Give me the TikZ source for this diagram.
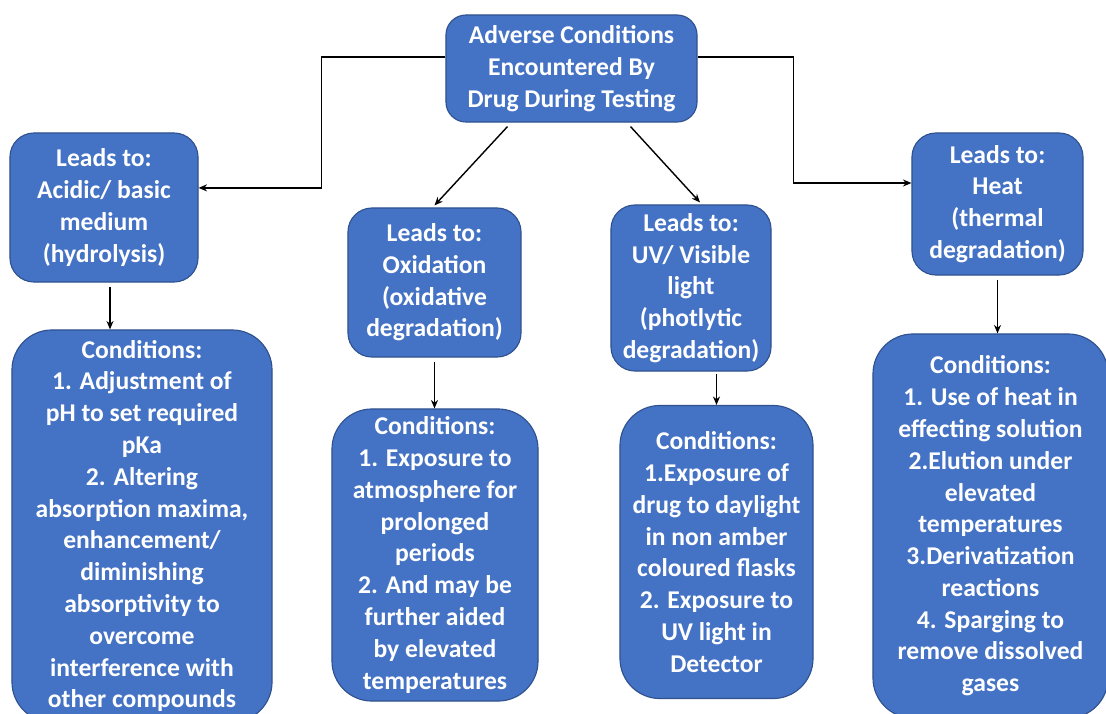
\documentclass[tikz,border=0pt]{standalone}
\usepackage{fontspec}
\setmainfont{Carlito}
\usepackage{tikz}
\usetikzlibrary{arrows.meta,positioning}
\usepackage{xcolor}
\definecolor{boxblue}{HTML}{4472C4}
\definecolor{boxedge}{HTML}{2F528F}

\begin{document}
\begin{tikzpicture}[
    x=0.025cm, y=-0.025cm,
    box/.style={draw=boxedge, fill=boxblue, text=white, line width=0.8pt, align=center, inner sep=0pt, font=\fontsize{18.2}{22.6}\selectfont\bfseries},
    lead/.style={box, rounded corners=0.6cm},
    cond/.style={box, rounded corners=1cm},
    arrow/.style={-{Stealth[length=6pt,width=5pt]}, line width=1pt}
  ]
  \clip (0,0) rectangle (1106,713);

  % Main components
  \node[box, rounded corners=0.5cm, minimum width=6.275cm, minimum height=2.675cm] (adverse) at (571.5,68.5) {Adverse Conditions\\Encountered By\\Drug During Testing};
  \node[lead, minimum width=4.7cm, minimum height=3.725cm] (acid) at (104,207.5) {Leads to:\\Acidic/ basic\\medium\\(hydrolysis)};
  \node[lead, minimum width=4.325cm, minimum height=3.725cm] (oxid) at (434.5,282.5) {Leads to:\\Oxidation\\(oxidative\\degradation)};
  \node[lead, minimum width=4cm, minimum height=4.15cm] (light) at (691,288) {Leads to:\\UV/ Visible\\light\\(photlytic\\degradation)};
  \node[lead, minimum width=4.275cm, minimum height=3.55cm] (heat) at (997.5,204) {Leads to:\\Heat\\(thermal\\degradation)};

  % Conditions
  \node[cond, minimum width=6.5cm, minimum height=9.8cm] (acid_cond) at (142,526) {Conditions:\\1. Adjustment of\\pH to set required\\pKa\\2. Altering\\absorption maxima,\\enhancement/\\diminishing\\absorptivity to\\overcome\\interference with\\other compounds};
  \node[cond, minimum width=5.15cm, minimum height=7.3cm] (oxid_cond) at (435,555) {Conditions:\\1. Exposure to\\atmosphere for\\prolonged\\periods\\2. And may be\\further aided\\by elevated\\temperatures};
  \node[cond, minimum width=4.825cm, minimum height=7.325cm] (light_cond) at (716.5,552) {Conditions:\\1.Exposure of\\drug to daylight\\in non amber\\coloured flasks\\2. Exposure to\\UV light in\\Detector};
  \node[cond, minimum width=5.875cm, minimum height=9.6cm] (heat_cond) at (990.5,526) {Conditions:\\1. Use of heat in\\effecting solution\\2.Elution under\\elevated\\temperatures\\3.Derivatization\\reactions\\4. Sparging to\\remove dissolved\\gases};

  % Connections
  \draw[arrow] ([yshift=0.29cm]adverse.west) -- ++(-124,0) |- ([yshift=0.49cm]acid.east);
  \draw[arrow] ([yshift=0.29cm]adverse.east) -- ++(96,0) |- ([yshift=0.525cm]heat.west);
  \draw[arrow] ([xshift=-1.6cm,yshift=-0.1cm]adverse.south) -- ([yshift=0.05cm]oxid.north);
  \draw[arrow] ([xshift=1.475cm,yshift=-0.1cm]adverse.south) -- ([xshift=0.225cm,yshift=0.05cm]light.north);
  \draw[arrow] ([xshift=0.15cm,yshift=-0.1cm]acid.south) -- ([xshift=0.15cm]acid.south |- acid_cond.north);
  \draw[arrow] ([yshift=-0.1cm]oxid.south) -- (oxid.south |- oxid_cond.north);
  \draw[arrow] ([yshift=-0.05cm]light_cond.north |- light.south) -- (light_cond.north);
  \draw[arrow] ([yshift=-0.1cm]heat.south) -- (heat.south |- heat_cond.north);

\end{tikzpicture}
\end{document}
